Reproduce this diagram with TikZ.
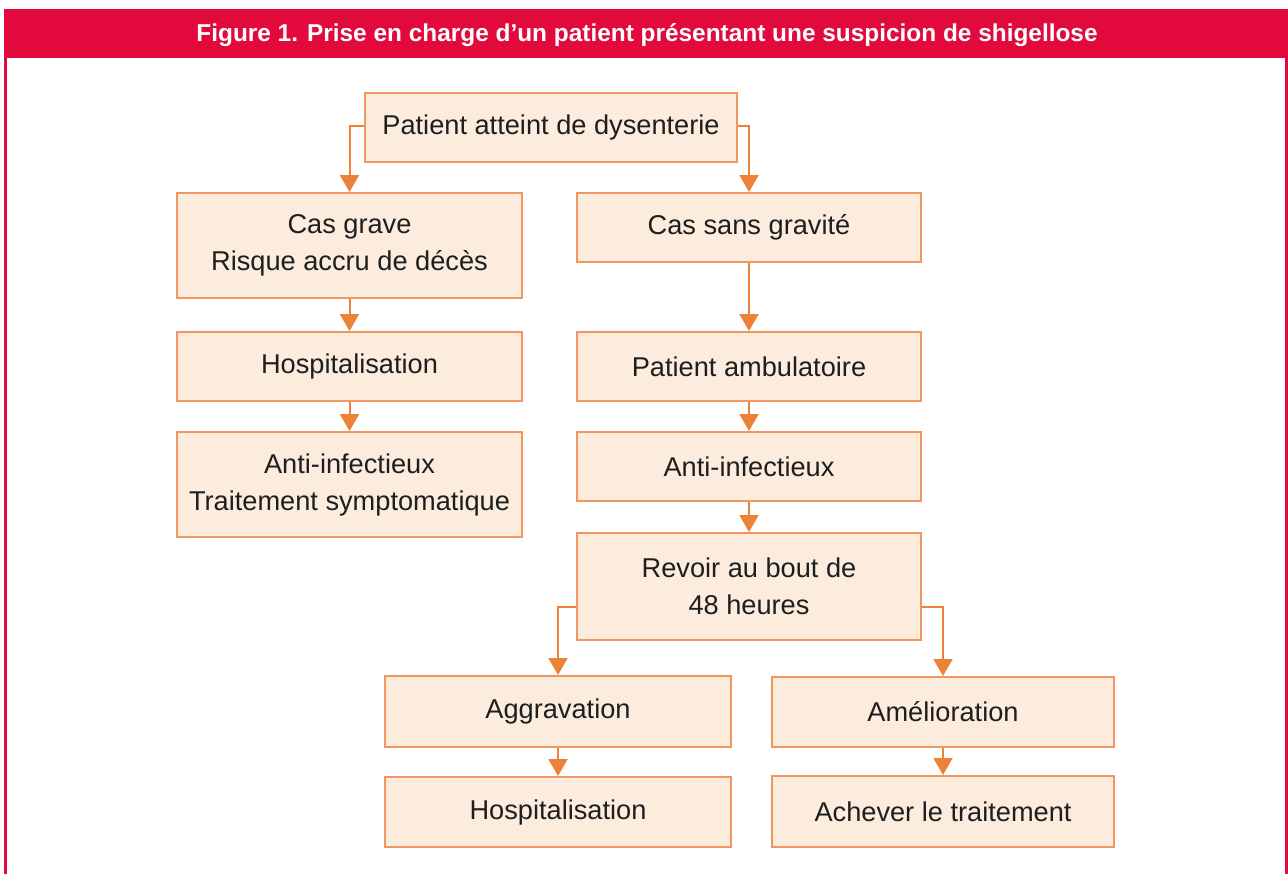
\documentclass[tikz,border=0pt]{standalone}
\usepackage{fontspec}
\setmainfont{Liberation Sans}
\usetikzlibrary{arrows.meta,calc}
\definecolor{framered}{RGB}{226,10,60}
\definecolor{boxfill}{RGB}{252,236,222}
\definecolor{boxline}{RGB}{240,150,95}
\definecolor{arrowcol}{RGB}{235,130,55}
\definecolor{txt}{RGB}{30,30,30}
\begin{document}
\begin{tikzpicture}[x=0.5pt,y=-0.5pt,
  flowbox/.style={draw=boxline,fill=boxfill,line width=1pt,inner sep=0pt,
    align=center,text=txt,font=\fontsize{13.6pt}{18.5pt}\selectfont},
  flowarrow/.style={draw=arrowcol,line width=1pt,
    -{Triangle[width=9.5pt,length=8.5pt]},arrowcol}
]
\useasboundingbox (0,0) rectangle (1288,874);
% frame and title band
\fill[framered] (4,9) rectangle (1288,58);
\draw[framered,line width=1.5pt] (5.5,58) -- (5.5,874);
\draw[framered,line width=1.3pt] (1286.5,58) -- (1286.5,874);
\node[text=white,font=\bfseries\fontsize{12.2pt}{14pt}\selectfont] (title) at (647,35)
  {Figure 1. Prise en charge d’un patient présentant une suspicion de shigellose};

% boxes
\node[flowbox,minimum width=186pt,minimum height=34.5pt] (top) at (551,127.5) {Patient atteint de dysenterie};
\node[flowbox,minimum width=172.5pt,minimum height=52.5pt] (grave) at (349.5,245.5) {Cas grave\\Risque accru de décès};
\node[flowbox,minimum width=172pt,minimum height=34.5pt] (sans) at (749,227.5) {Cas sans gravité};
\node[flowbox,minimum width=172.5pt,minimum height=34.5pt] (hosp1) at (349.5,366.5) {Hospitalisation};
\node[flowbox,minimum width=172pt,minimum height=34.5pt] (amb) at (749,366.5) {Patient ambulatoire};
\node[flowbox,minimum width=172.5pt,minimum height=52.5pt] (anti1) at (349.5,484.5) {Anti-infectieux\\Traitement symptomatique};
\node[flowbox,minimum width=172pt,minimum height=34.5pt] (anti2) at (749,466.5) {Anti-infectieux};
\node[flowbox,minimum width=172pt,minimum height=53.5pt] (revoir) at (749,586.5) {Revoir au bout de\\48 heures};
\node[flowbox,minimum width=173pt,minimum height=35.5pt] (aggr) at (558,711.5) {Aggravation};
\node[flowbox,minimum width=173pt,minimum height=35pt] (hosp2) at (558,812) {Hospitalisation};
\node[flowbox,minimum width=171pt,minimum height=35pt] (amel) at (943,712) {Amélioration};
\node[flowbox,minimum width=171pt,minimum height=35.5pt] (ach) at (943,811.5) {Achever le traitement};

% connectors
\draw[flowarrow] ($(top.west)+(0,-2)$) -| (grave.north);
\draw[flowarrow] ($(top.east)+(0,-2)$) -| (sans.north);
\draw[flowarrow] (grave) -- (hosp1);
\draw[flowarrow] (hosp1) -- (anti1);
\draw[flowarrow] (sans) -- (amb);
\draw[flowarrow] (amb) -- (anti2);
\draw[flowarrow] (anti2) -- (revoir);
\draw[flowarrow] ($(revoir.west)+(0,20)$) -| (aggr.north);
\draw[flowarrow] ($(revoir.east)+(0,20)$) -| (amel.north);
\draw[flowarrow] (aggr) -- (hosp2);
\draw[flowarrow] (amel) -- (ach);
\end{tikzpicture}
\end{document}
